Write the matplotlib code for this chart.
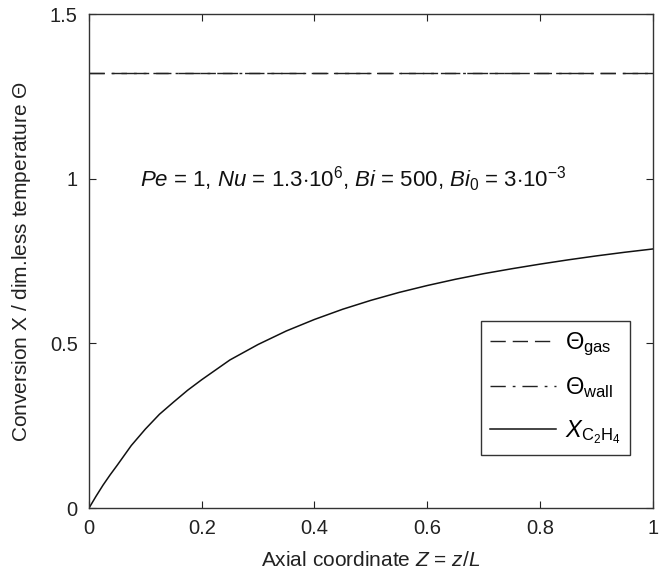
import matplotlib
matplotlib.use("Agg")
import matplotlib.pyplot as plt

plt.rcParams['font.family'] = ['Liberation Sans', 'DejaVu Sans']
plt.rcParams['mathtext.fontset'] = 'custom'
plt.rcParams['mathtext.rm'] = 'Liberation Sans'
plt.rcParams['mathtext.it'] = 'Liberation Sans:italic'
plt.rcParams['mathtext.bf'] = 'Liberation Sans:bold'

# Data
z_vals = [0.0, 0.0125, 0.025, 0.0375, 0.05, 0.075, 0.1, 0.125, 0.15, 0.175, 0.2, 0.25,
          0.3, 0.35, 0.4, 0.45, 0.5, 0.55, 0.6, 0.65, 0.7, 0.75, 0.8, 0.85, 0.9, 0.95, 1.0]
x_c2h4 = [0.0, 0.036, 0.07, 0.101, 0.13, 0.19, 0.24, 0.285, 0.322, 0.358, 0.39, 0.45,
          0.497, 0.538, 0.573, 0.604, 0.631, 0.655, 0.676, 0.695, 0.712, 0.727, 0.741,
          0.754, 0.766, 0.777, 0.787]
z_const = [0.0, 1.0]
theta_gas = [1.32, 1.32]
theta_wall = [1.32, 1.32]

x_ticks = [0, 0.2, 0.4, 0.6, 0.8, 1]
x_ticklabels = ["0", "0.2", "0.4", "0.6", "0.8", "1"]
y_ticks = [0, 0.5, 1, 1.5]
y_ticklabels = ["0", "0.5", "1", "1.5"]

fig = plt.figure(figsize=(6.64, 5.69), dpi=100)
ax = fig.add_axes([0.134, 0.107, 0.849, 0.868])

ax.plot(z_const, theta_gas, color='#222222', lw=1.0, linestyle=(0, (11, 5)), label=r'$\Theta_{\mathrm{gas}}$')
ax.plot(z_const, theta_wall, color='#222222', lw=1.0, linestyle=(0, (11, 5, 2, 5)), label=r'$\Theta_{\mathrm{wall}}$')
ax.plot(z_vals, x_c2h4, color='#111111', lw=1.1, label=r'$X_{\mathrm{C_2H_4}}$')

ax.set_xlim(0, 1)
ax.set_ylim(0, 1.5)
ax.set_xticks(x_ticks)
ax.set_xticklabels(x_ticklabels)
ax.set_yticks(y_ticks)
ax.set_yticklabels(y_ticklabels)
ax.tick_params(direction='in', top=True, right=True, length=5, width=0.8,
               labelsize=14.5, pad=8, colors='#222222')
for s in ax.spines.values():
    s.set_color('#333333')
    s.set_linewidth(1.0)

ax.set_xlabel(r'Axial coordinate $Z$ = $z/L$', fontsize=15, color='#222222', labelpad=9)
ax.set_ylabel(r'Conversion X / dim.less temperature $\Theta$', fontsize=15, color='#222222', labelpad=12)

ax.text(0.09, 1.0, r'$Pe$ = 1, $Nu$ = 1.3$\cdot$10$^{6}$, $Bi$ = 500, $Bi_{0}$ = 3$\cdot$10$^{-3}$',
        fontsize=16, color='#111111', va='center', ha='left')

leg = ax.legend(loc='lower right', bbox_to_anchor=(0.959, 0.107), fontsize=17,
                handlelength=2.8, labelspacing=0.75, frameon=True, fancybox=False,
                framealpha=1, edgecolor='#333333', borderpad=0.4, handletextpad=0.35,
                borderaxespad=0)
leg.get_frame().set_linewidth(1.0)

fig.savefig('out.png', dpi=100)
